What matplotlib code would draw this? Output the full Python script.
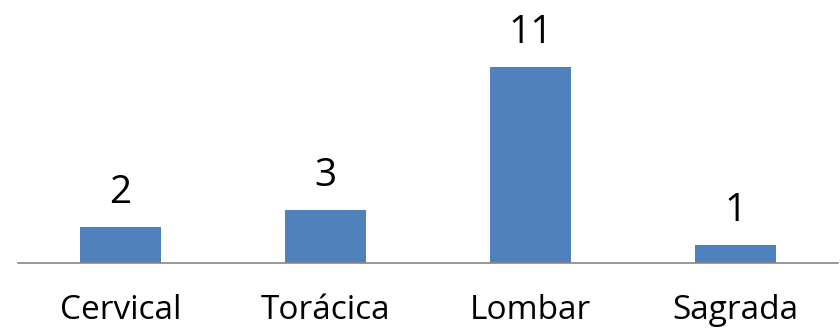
import matplotlib.pyplot as plt

categories = ["Cervical", "Torácica", "Lombar", "Sagrada"]
counts = [2, 3, 11, 1]

plt.rcParams['font.family'] = ['Open Sans', 'DejaVu Sans']

fig = plt.figure(figsize=(8.4, 3.3), dpi=100)
ax = fig.add_axes([18 / 840, 67 / 330, 820 / 840, 263 / 330])

bars = ax.bar(range(len(categories)), counts, width=0.395, color="#4F81BD")
for b, v in zip(bars, counts):
    ax.annotate(str(v), (b.get_x() + b.get_width() / 2, v), xytext=(0, 17.3),
                textcoords="offset points", ha="center", va="baseline", fontsize=28)

ax.set_xlim(-0.5, 3.5)
ax.set_ylim(0, 263 / 17.8)
ax.set_xticks(range(len(categories)))
ax.set_xticklabels(categories, fontsize=24)
ax.tick_params(axis="x", length=0, pad=22)
ax.set_yticks([])
for s in ["top", "right", "left"]:
    ax.spines[s].set_visible(False)
ax.spines["bottom"].set_color("#878787")
ax.spines["bottom"].set_linewidth(1.2)

fig.savefig("out.png", dpi=100)
